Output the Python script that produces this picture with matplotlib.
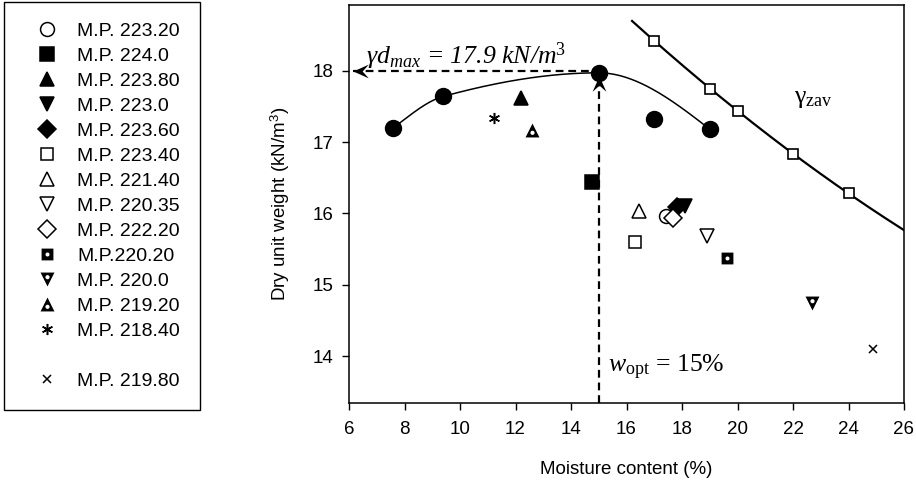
import numpy as np
import matplotlib
matplotlib.use('Agg')
import matplotlib.pyplot as plt
from matplotlib.lines import Line2D
from matplotlib.path import Path

plt.rcParams['font.family'] = ['Liberation Sans', 'DejaVu Sans']
plt.rcParams['mathtext.fontset'] = 'custom'
plt.rcParams['mathtext.rm'] = 'Liberation Serif'
plt.rcParams['mathtext.it'] = 'Liberation Serif:italic'
plt.rcParams['mathtext.sf'] = 'Liberation Sans'

# standard proctor test (filled circles)
proctor_w = [7.6, 9.4, 15.0, 17.0, 19.0]
proctor_gd = [17.2, 17.64, 17.97, 17.32, 17.18]
curve_idx = [0, 1, 2, 4]  # points the compaction curve goes through

# zero air voids points
zav_w = [17.0, 19.0, 20.0, 22.0, 24.0]
zav_gd = [18.42, 17.75, 17.44, 16.84, 16.28]

# field samples
mp_labels = ['M.P. 223.20', 'M.P. 224.0', 'M.P. 223.80', 'M.P. 223.0', 'M.P. 223.60',
             'M.P. 223.40', 'M.P. 221.40', 'M.P. 220.35', 'M.P. 222.20', 'M.P.220.20',
             'M.P. 220.0', 'M.P. 219.20', 'M.P. 218.40', 'M.P. 219.80']
mp_w = [17.42, 14.75, 12.2, 18.1, 17.81, 16.31, 16.45, 18.91, 17.69, 19.63, 22.67, 12.58, 11.24, 24.9]
mp_gd = [15.97, 16.44, 17.62, 16.1, 16.09, 15.6, 16.04, 15.69, 15.94, 15.38, 14.74, 17.17, 17.34, 14.1]

w_opt = 15.0
gd_max = 17.97


def pchip(x, y, xs):
    # monotone cubic hermite, keeps the curve flat at the peak
    x = np.asarray(x, float)
    y = np.asarray(y, float)
    h = np.diff(x)
    delta = np.diff(y) / h
    d = np.zeros_like(y)
    for k in range(1, len(x) - 1):
        if delta[k - 1] * delta[k] > 0:
            w1 = 2 * h[k] + h[k - 1]
            w2 = h[k] + 2 * h[k - 1]
            d[k] = (w1 + w2) / (w1 / delta[k - 1] + w2 / delta[k])
    d[0] = ((2 * h[0] + h[1]) * delta[0] - h[0] * delta[1]) / (h[0] + h[1])
    d[-1] = ((2 * h[-1] + h[-2]) * delta[-1] - h[-1] * delta[-2]) / (h[-1] + h[-2])
    i = np.clip(np.searchsorted(x, xs) - 1, 0, len(x) - 2)
    t = (xs - x[i]) / h[i]
    h00 = 2 * t**3 - 3 * t**2 + 1
    h10 = t**3 - 2 * t**2 + t
    h01 = -2 * t**3 + 3 * t**2
    h11 = t**3 - t**2
    return h00 * y[i] + h10 * h[i] * d[i] + h01 * y[i + 1] + h11 * h[i] * d[i + 1]


def holed(outer, centre, r):
    # black marker with a white hole (drawn clockwise so the circle cuts out)
    shape = Path(outer + [outer[0]], closed=True)
    return Path.make_compound_path(shape, Path.circle(centre, r))


sq_dot = holed([(-1, -1), (-1, 1), (1, 1), (1, -1)], (0, 0), 0.34)
dn_dot = holed([(0, -1), (-1, 1), (1, 1)], (0, 1 / 3), 0.3)
up_dot = holed([(0, 1), (1, -1), (-1, -1)], (0, -1 / 3), 0.3)

styles = [
    dict(marker='o', mfc='white', ms=10),
    dict(marker='s', mfc='black', ms=9.5),
    dict(marker='^', mfc='black', ms=10),
    dict(marker='v', mfc='black', ms=10),
    dict(marker='D', mfc='black', ms=9),
    dict(marker='s', mfc='white', ms=9),
    dict(marker='^', mfc='white', ms=9.5),
    dict(marker='v', mfc='white', ms=9.5),
    dict(marker='D', mfc='white', ms=9),
    dict(marker=sq_dot, mfc='black', ms=8.5),
    dict(marker=dn_dot, mfc='black', ms=10),
    dict(marker=up_dot, mfc='black', ms=10),
    dict(marker=(6, 2, 0), mfc='black', ms=8),
    dict(marker='x', mfc='black', ms=5.5),
]

fig = plt.figure(figsize=(9.16, 4.97), dpi=100)
ax = fig.add_axes([349 / 916, 1 - 402.7 / 497, 555 / 916, 397.7 / 497])

# compaction curve
cw = np.array(proctor_w)[curve_idx]
cg = np.array(proctor_gd)[curve_idx]
xs = np.linspace(cw[0], cw[-1], 300)
ax.plot(xs, pchip(cw, cg, xs), color='black', lw=1.1, zorder=2)
ax.plot(proctor_w, proctor_gd, 'o', color='black', ms=11.5, zorder=4)

# zav curve
coef = np.polyfit(zav_w, zav_gd, 2)
xz = np.linspace(16.2, 26, 300)
ax.plot(xz, np.polyval(coef, xz), color='black', lw=1.6, zorder=2)
ax.plot(zav_w, zav_gd, 's', mfc='white', mec='black', mew=1.2, ms=7, zorder=4)

handles = []
for lab, w, g, st in zip(mp_labels, mp_w, mp_gd, styles):
    holes = isinstance(st['marker'], Path)
    kw = dict(marker=st['marker'], linestyle='none', color='black', mfc=st['mfc'],
              mec='none' if holes else 'black', ms=st['ms'], mew=1.1)
    ax.plot([w], [g], zorder=5, **kw)
    handles.append(Line2D([], [], **kw))

labels = list(mp_labels)
handles.insert(13, Line2D([], [], linestyle='none', marker='none'))
labels.insert(13, ' ')

# dashed guide lines with arrow heads
dash = dict(color='black', lw=1.6, dashes=(3.5, 2.2), zorder=3)
ax.plot([6.15, w_opt], [gd_max + 0.02, gd_max + 0.02], **dash)
ax.plot([w_opt, w_opt], [13.35, gd_max - 0.06], **dash)
left_head = [(0, 0), (1, 0.45), (0.6, 0), (1, -0.45), (0, 0)]
up_head = [(0, 0), (0.45, -1), (0, -0.6), (-0.45, -1), (0, 0)]
ax.plot([6.13], [gd_max + 0.02], marker=left_head, color='black', ms=22, mew=0, zorder=6)
ax.plot([w_opt], [gd_max - 0.05], marker=up_head, color='black', ms=22, mew=0, zorder=6)

serif = dict(family='Liberation Serif', fontsize=18.5)
ax.text(6.62, 18.1, r'$\mathit{\gamma d}_{\mathit{max}}$ = 17.9 kN/m$^{\mathit{3}}$',
        style='italic', **serif)
ax.text(15.35, 13.78, r'$\mathit{w}_{\mathrm{opt}}$ = 15%', **serif)
ax.text(22.05, 17.55, r'$\mathrm{\gamma}_{\mathrm{zav}}$', **serif)

ax.set_xlim(6, 26)
ax.set_ylim(13.35, 18.92)
ax.set_xticks(np.arange(6, 27, 2))
ax.set_yticks([14, 15, 16, 17, 18])
ax.tick_params(direction='out', length=5, width=1, labelsize=13.5)
ax.tick_params(axis='x', pad=8)
ax.tick_params(axis='y', pad=6)
for s in ax.spines.values():
    s.set_linewidth(1.1)
ax.set_xlabel('Moisture content (%)', fontsize=13.5, labelpad=17)
ax.set_ylabel(r'Dry unit weight (kN/m$^{\mathsf{3}}$)', fontsize=13.5, labelpad=15)

leg = fig.legend(handles, labels, loc='upper left', bbox_to_anchor=(4 / 916, 1 - 2 / 497),
                 bbox_transform=fig.transFigure, fontsize=14, frameon=True, fancybox=False,
                 edgecolor='black', framealpha=1, borderpad=1.03, borderaxespad=0,
                 handlelength=2.37, handletextpad=0.36, labelspacing=0.38)
leg.get_frame().set_linewidth(1.0)

fig.savefig('out.png', dpi=100)
